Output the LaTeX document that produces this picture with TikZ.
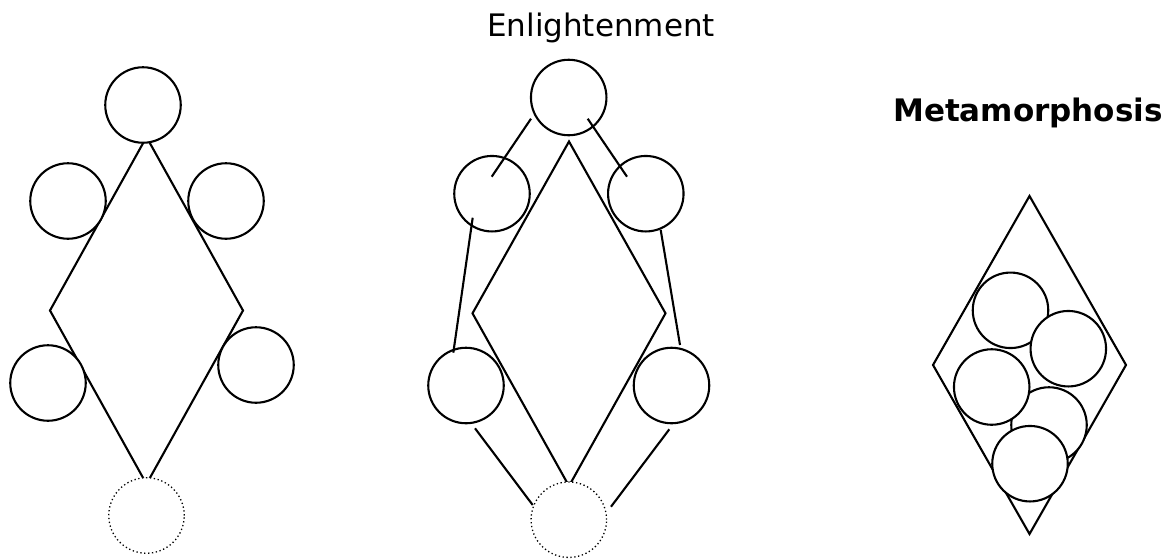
\documentclass[tikz,border=0pt]{standalone}
\usepackage{fontspec}
\setmainfont{DejaVu Sans}
\usepackage{xcolor}
\usepackage{tikz}
\definecolor{ink}{HTML}{000000}
\tikzset{
  ringNode/.style={circle, draw=ink, fill=white, line width=2.1pt, minimum size=75.5pt, inner sep=0pt},
  ringDotted/.style={ringNode, line width=1.3pt, dash pattern=on 1.3pt off 2.6pt},
  kiteLine/.style={draw=ink, line width=2.1pt, line join=miter},
  linkLine/.style={draw=ink, line width=2.1pt},
  titleText/.style={text=ink, font=\fontsize{31}{36}\selectfont, anchor=base, inner sep=0pt},
  titleBold/.style={titleText, font=\fontsize{31}{36}\selectfont\bfseries}
}

\begin{document}
\begin{tikzpicture}[x=1pt, y=-1pt]
  \useasboundingbox (0,0) rectangle (1169,558);

  % left kite
  \coordinate (LT) at (146.5,137);
  \coordinate (LL) at (50,310.5);
  \coordinate (LR) at (243,310.5);
  \coordinate (LB) at (146.5,484);
  \draw[kiteLine] (LT) -- (LR) -- (LB) -- (LL) -- cycle;

  \node[ringNode] (Ltop) at (143,105) {};
  \node[ringNode] (Lul) at (68,201) {};
  \node[ringNode] (Lur) at (226,201) {};
  \node[ringNode] (Lll) at (48,383) {};
  \node[ringNode] (Llr) at (256,365) {};
  \node[ringDotted] (Lbot) at (146.5,515.5) {};

  % middle kite
  \node[titleText] (enl) at (601,36.7) {Enlightenment};

  \coordinate (MT) at (569,141.5);
  \coordinate (ML) at (472.5,313.3);
  \coordinate (MR) at (665.5,313.3);
  \coordinate (MB) at (569,486);
  \draw[kiteLine] (MT) -- (MR) -- (MB) -- (ML) -- cycle;

  \node[ringNode] (Mtop) at (568.7,97.5) {};
  \node[ringNode] (Mul) at (492,193.7) {};
  \node[ringNode] (Mur) at (645.8,193.7) {};
  \node[ringNode] (Mll) at (466,385.5) {};
  \node[ringNode] (Mlr) at (671.5,385.5) {};
  \node[ringDotted] (Mbot) at (568.8,519.7) {};

  \coordinate (a1) at (531,118.7);
  \coordinate (a2) at (491.7,176.7);
  \coordinate (b1) at (587.7,118.7);
  \coordinate (b2) at (627,176.7);
  \coordinate (c1) at (472.7,217.7);
  \coordinate (c2) at (453.3,352.7);
  \coordinate (d1) at (660.7,230);
  \coordinate (d2) at (680,345);
  \coordinate (e1) at (475,428.3);
  \coordinate (e2) at (532.7,505);
  \coordinate (f1) at (669.3,429.3);
  \coordinate (f2) at (611,506.7);
  \draw[linkLine] (a1) -- (a2);
  \draw[linkLine] (b1) -- (b2);
  \draw[linkLine] (c1) -- (c2);
  \draw[linkLine] (d1) -- (d2);
  \draw[linkLine] (e1) -- (e2);
  \draw[linkLine] (f1) -- (f2);

  % right kite
  \node[titleBold] (meta) at (1028,121.7) {Metamorphosis};

  \coordinate (RT) at (1029.5,196);
  \coordinate (RL) at (933,365);
  \coordinate (RR) at (1126,365);
  \coordinate (RB) at (1029.5,534);
  \draw[kiteLine] (RT) -- (RR) -- (RB) -- (RL) -- cycle;

  \node[ringNode] (Ra) at (1010.5,310.3) {};
  \node[ringNode] (Rb) at (1068.3,348.7) {};
  \node[ringNode] (Rd) at (1049,425) {};
  \node[ringNode] (Rc) at (991.7,387) {};
  \node[ringNode] (Re) at (1030,463.7) {};
\end{tikzpicture}
\end{document}
